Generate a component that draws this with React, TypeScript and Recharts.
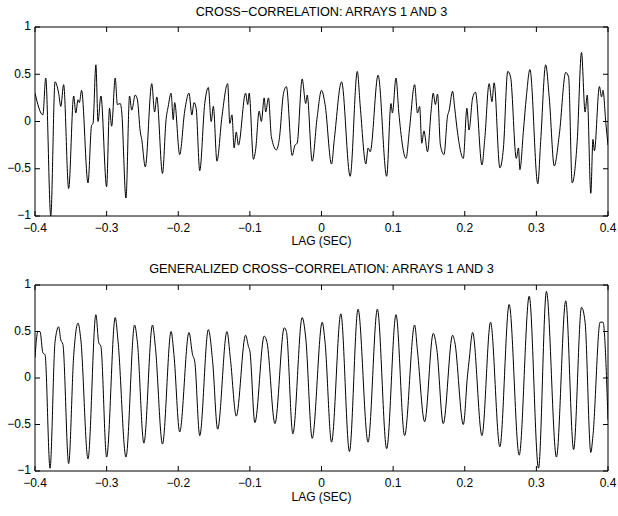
import React from 'react';
import { LineChart, Line, XAxis, YAxis } from 'recharts';

// ---- Data: cross-correlation (top panel) ----
const xcorrLag = [
  -0.400, -0.389, -0.385, -0.378, -0.372, -0.367, -0.364, -0.360, -0.353, -0.346,
  -0.343, -0.340, -0.338, -0.335, -0.326, -0.321, -0.319, -0.315, -0.312, -0.308,
  -0.300, -0.296, -0.293, -0.288, -0.285, -0.281, -0.279, -0.273, -0.268, -0.265,
  -0.260, -0.257, -0.253, -0.251, -0.246, -0.237, -0.233, -0.230, -0.222, -0.217,
  -0.214, -0.210, -0.207, -0.205, -0.198, -0.191, -0.185, -0.181, -0.178, -0.175,
  -0.170, -0.163, -0.158, -0.154, -0.151, -0.146, -0.139, -0.131, -0.128, -0.125,
  -0.122, -0.119, -0.116, -0.106, -0.103, -0.101, -0.095, -0.092, -0.087, -0.084,
  -0.080, -0.078, -0.074, -0.070, -0.063, -0.059, -0.053, -0.049, -0.041, -0.037,
  -0.034, -0.027, -0.022, -0.020, -0.013, -0.006, 0.000, 0.005, 0.014, 0.018,
  0.028, 0.040, 0.050, 0.054, 0.062, 0.065, 0.068, 0.079, 0.091, 0.097,
  0.099, 0.104, 0.108, 0.118, 0.123, 0.130, 0.134, 0.137, 0.140, 0.143,
  0.148, 0.153, 0.156, 0.159, 0.162, 0.166, 0.171, 0.176, 0.178, 0.183,
  0.186, 0.190, 0.198, 0.203, 0.206, 0.211, 0.215, 0.224, 0.228, 0.234,
  0.238, 0.241, 0.249, 0.254, 0.260, 0.264, 0.272, 0.275, 0.277, 0.282,
  0.286, 0.291, 0.302, 0.306, 0.313, 0.318, 0.325, 0.332, 0.341, 0.345,
  0.350, 0.357, 0.363, 0.368, 0.371, 0.376, 0.379, 0.381, 0.388, 0.391,
  0.393, 0.397, 0.400,
];
const xcorrValue = [
  0.30, 0.07, 0.46, -1.00, 0.42, 0.30, 0.16, 0.39, -0.71, 0.27,
  0.09, 0.23, 0.20, 0.33, -0.65, -0.04, -0.02, 0.60, 0.00, 0.27,
  -0.69, 0.14, -0.05, 0.46, 0.18, 0.19, 0.11, -0.81, 0.27, 0.12,
  0.28, 0.23, -0.11, -0.19, -0.48, 0.40, 0.10, 0.26, -0.55, 0.02,
  0.16, 0.30, 0.02, 0.20, -0.35, 0.11, 0.30, 0.07, 0.20, 0.14,
  -0.52, 0.19, 0.36, 0.00, 0.16, -0.42, 0.05, 0.40, -0.02, 0.07,
  -0.28, -0.11, -0.25, 0.30, 0.18, 0.30, -0.40, -0.30, 0.11, 0.00,
  0.25, 0.10, 0.25, -0.16, -0.30, -0.19, 0.30, 0.37, -0.36, -0.25,
  -0.23, 0.45, 0.19, 0.28, -0.42, 0.05, 0.33, 0.18, -0.45, -0.18,
  0.42, -0.58, 0.53, 0.17, -0.45, -0.28, -0.32, 0.49, -0.58, 0.19,
  0.09, 0.46, 0.09, -0.39, -0.07, 0.39, 0.09, 0.16, -0.23, -0.10,
  -0.32, 0.11, 0.30, 0.18, 0.29, -0.25, -0.35, 0.06, 0.11, 0.32,
  0.14, -0.12, -0.39, 0.14, -0.09, 0.25, 0.31, -0.46, -0.18, 0.40,
  0.21, 0.41, -0.49, -0.28, 0.53, 0.47, -0.39, -0.28, -0.51, -0.09,
  0.26, 0.55, -0.66, -0.21, 0.60, 0.25, -0.47, -0.14, 0.52, 0.47,
  -0.65, -0.21, 0.73, 0.10, 0.28, -0.76, -0.19, -0.31, 0.37, 0.26,
  0.33, -0.02, -0.25,
];

// ---- Data: generalized cross-correlation (bottom panel) ----
const gccLag = [
  -0.400, -0.396, -0.393, -0.389, -0.386, -0.379, -0.372, -0.367, -0.364, -0.361,
  -0.353, -0.346, -0.340, -0.336, -0.326, -0.315, -0.311, -0.308, -0.300, -0.288,
  -0.284, -0.273, -0.261, -0.257, -0.248, -0.236, -0.232, -0.222, -0.210, -0.206,
  -0.198, -0.185, -0.180, -0.177, -0.170, -0.158, -0.152, -0.145, -0.132, -0.127,
  -0.119, -0.106, -0.102, -0.100, -0.093, -0.080, -0.076, -0.065, -0.052, -0.049,
  -0.040, -0.027, -0.022, -0.013, 0.001, 0.005, 0.014, 0.027, 0.039, 0.051,
  0.065, 0.078, 0.091, 0.104, 0.116, 0.130, 0.134, 0.144, 0.156, 0.161,
  0.170, 0.183, 0.186, 0.198, 0.204, 0.206, 0.211, 0.224, 0.236, 0.249,
  0.262, 0.276, 0.290, 0.303, 0.314, 0.328, 0.341, 0.352, 0.363, 0.368,
  0.376, 0.379, 0.389, 0.393, 0.400,
];
const gccValue = [
  0.22, 0.50, 0.50, 0.27, 0.25, -0.97, 0.39, 0.55, 0.41, 0.36,
  -0.92, 0.24, 0.59, 0.41, -0.87, 0.68, 0.38, 0.34, -0.85, 0.65,
  0.39, -0.85, 0.57, 0.38, -0.70, 0.57, 0.34, -0.71, 0.50, 0.25,
  -0.58, 0.49, 0.25, 0.18, -0.62, 0.52, 0.18, -0.55, 0.50, 0.19,
  -0.41, 0.46, 0.34, 0.29, -0.48, 0.45, 0.38, -0.49, 0.54, 0.50,
  -0.60, 0.65, 0.43, -0.65, 0.60, 0.38, -0.69, 0.69, -0.79, 0.74,
  -0.69, 0.74, -0.76, 0.68, -0.62, 0.57, 0.29, -0.47, 0.48, 0.31,
  -0.49, 0.46, 0.39, -0.50, 0.04, 0.18, 0.49, -0.62, 0.60, -0.74,
  0.79, -0.83, 0.88, -0.97, 0.93, -0.85, 0.83, -0.77, 0.76, 0.60,
  -0.80, -0.62, 0.60, 0.60, -0.45,
];

const xTicks = [-0.4, -0.3, -0.2, -0.1, 0, 0.1, 0.2, 0.3, 0.4];
const yTicks = [-1, -0.5, 0, 0.5, 1];
const titleTop = 'CROSS\u2212CORRELATION: ARRAYS 1 AND 3';
const titleBottom = 'GENERALIZED CROSS\u2212CORRELATION: ARRAYS 1 AND 3';
const xLabel = 'LAG (SEC)';

const FONT = '"Liberation Sans", Arial, Helvetica, sans-serif';
const fmt = (v: number) => {
  const r = Math.round(v * 10) / 10;
  if (r === 0) return '0';
  const s = String(Math.abs(r));
  return r < 0 ? '\u2212' + s : s;
};
const blank = () => '';

type PanelProps = {
  lags: number[];
  values: number[];
  top: number;
  plotHeight: number;
};

function Panel({ lags, values, top, plotHeight }: PanelProps) {
  const data = lags.map((lag, i) => ({ lag, v: values[i] }));
  const marginTop = 26; // + 1px top axis = plot top at 27
  const bottomAxis = 33;
  const height = marginTop + 1 + plotHeight + bottomAxis;
  const tickStyle = { fill: '#000', fontSize: 12, fontFamily: FONT };
  return (
    <div style={{ position: 'absolute', left: 0, top }}>
      <LineChart
        width={618}
        height={height}
        data={data}
        margin={{ top: marginTop, right: 9, left: 0, bottom: 0 }}
      >
        <XAxis
          xAxisId="b"
          dataKey="lag"
          type="number"
          domain={[-0.4, 0.4]}
          allowDataOverflow
          ticks={xTicks}
          interval={0}
          tickFormatter={fmt}
          height={bottomAxis}
          tickSize={-5}
          tickMargin={12}
          tick={tickStyle}
          stroke="#000"
          axisLine={{ stroke: '#000' }}
          tickLine={{ stroke: '#000' }}
        />
        <XAxis
          xAxisId="t"
          orientation="top"
          dataKey="lag"
          type="number"
          domain={[-0.4, 0.4]}
          allowDataOverflow
          ticks={xTicks}
          interval={0}
          tickFormatter={blank}
          height={1}
          tickSize={-5}
          stroke="#000"
          axisLine={{ stroke: '#000' }}
          tickLine={{ stroke: '#000' }}
        />
        <YAxis
          yAxisId="l"
          type="number"
          domain={[-1, 1]}
          allowDataOverflow
          ticks={yTicks}
          interval={0}
          tickFormatter={fmt}
          width={35}
          tickSize={-5}
          tickMargin={9}
          tick={{ ...tickStyle, dy: -1 }}
          stroke="#000"
          axisLine={{ stroke: '#000' }}
          tickLine={{ stroke: '#000' }}
        />
        <YAxis
          yAxisId="r"
          orientation="right"
          type="number"
          domain={[-1, 1]}
          allowDataOverflow
          ticks={yTicks}
          interval={0}
          tickFormatter={blank}
          width={1}
          tickSize={-5}
          stroke="#000"
          axisLine={{ stroke: '#000' }}
          tickLine={{ stroke: '#000' }}
        />
        <Line
          xAxisId="t"
          yAxisId="r"
          type="monotone"
          dataKey="v"
          stroke="none"
          strokeOpacity={0}
          dot={false}
          activeDot={false}
          isAnimationActive={false}
        />
        <Line
          xAxisId="b"
          yAxisId="l"
          type="monotone"
          dataKey="v"
          stroke="#000"
          strokeWidth={1}
          dot={false}
          activeDot={false}
          isAnimationActive={false}
        />
      </LineChart>
    </div>
  );
}

const textStyle: React.CSSProperties = {
  position: 'absolute',
  left: 35,
  width: 573,
  textAlign: 'center',
  fontFamily: FONT,
  fontSize: 12.7,
  lineHeight: '14px',
  color: '#000',
  whiteSpace: 'nowrap',
};

export default function App() {
  return (
    <div
      style={{
        position: 'absolute',
        left: 0,
        top: 0,
        width: 618,
        height: 516,
        background: '#fff',
        overflow: 'hidden',
      }}
    >
      <div style={{ ...textStyle, top: 5 }}>{titleTop}</div>
      <Panel lags={xcorrLag} values={xcorrValue} top={0} plotHeight={189} />
      <div style={{ ...textStyle, fontSize: 12, top: 234 }}>{xLabel}</div>
      <div style={{ ...textStyle, top: 262 }}>{titleBottom}</div>
      <Panel lags={gccLag} values={gccValue} top={258} plotHeight={186} />
      <div style={{ ...textStyle, fontSize: 12, top: 490 }}>{xLabel}</div>
    </div>
  );
}
